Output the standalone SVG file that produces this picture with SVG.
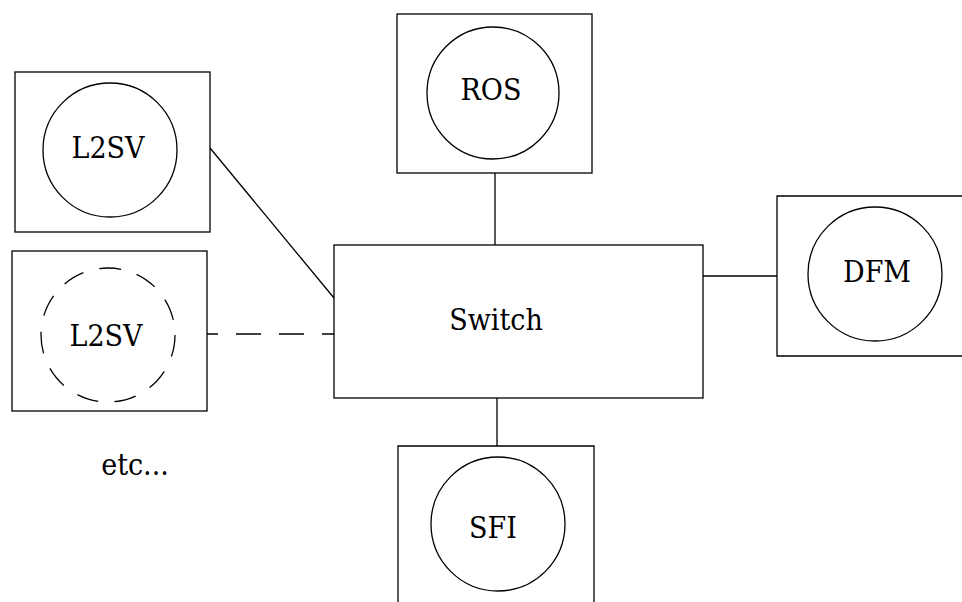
<svg xmlns="http://www.w3.org/2000/svg" width="962" height="602" viewBox="0 0 962 602">
  <style>
    .box { fill: none; stroke: #000; stroke-width: 1.3; }
    .ring { fill: none; stroke: #000; stroke-width: 1.3; }
    .ring.dashed { stroke-dasharray: 22 16.3; }
    .wire { fill: none; stroke: #000; stroke-width: 1.3; }
    .wire.dashed { stroke-dasharray: 25 18; stroke-dashoffset: 14; }
    .label { font-family: "DejaVu Serif Condensed", "DejaVu Serif", serif; font-stretch: condensed; font-size: 30px; fill: #000; text-anchor: middle; }
  </style>
  <rect width="962" height="602" fill="#fff"/>

  <g id="connectors">
    <line class="wire" x1="210" y1="148" x2="334" y2="298"/>
    <line class="wire dashed" x1="207" y1="334" x2="334" y2="334"/>
    <line class="wire" x1="495" y1="173" x2="495" y2="245"/>
    <line class="wire" x1="703" y1="276" x2="777" y2="276"/>
    <line class="wire" x1="497" y1="398" x2="497" y2="446"/>
  </g>

  <g id="l2sv-1">
    <rect class="box" x="15" y="72" width="195" height="160"/>
    <circle class="ring" cx="110" cy="150" r="67"/>
    <text class="label" x="108" y="158">L2SV</text>
  </g>

  <g id="l2sv-2">
    <rect class="box" x="12" y="251" width="195" height="160"/>
    <circle class="ring dashed" cx="108" cy="335" r="67"/>
    <text class="label" x="106" y="346">L2SV</text>
  </g>

  <g id="etc">
    <text class="label" x="135" y="475">etc...</text>
  </g>

  <g id="ros">
    <rect class="box" x="397" y="14" width="195" height="159"/>
    <circle class="ring" cx="493" cy="93" r="66"/>
    <text class="label" x="491" y="100">ROS</text>
  </g>

  <g id="switch">
    <rect class="box" x="334" y="245" width="369" height="153"/>
    <text class="label" x="496" y="330">Switch</text>
  </g>

  <g id="dfm">
    <path class="box" d="M963 196 H777 V356 H963"/>
    <circle class="ring" cx="875" cy="274" r="67"/>
    <text class="label" x="877" y="282">DFM</text>
  </g>

  <g id="sfi">
    <path class="box" d="M398 603 V446 H594 V603"/>
    <circle class="ring" cx="498" cy="524" r="67"/>
    <text class="label" x="493" y="538">SFI</text>
  </g>
</svg>
